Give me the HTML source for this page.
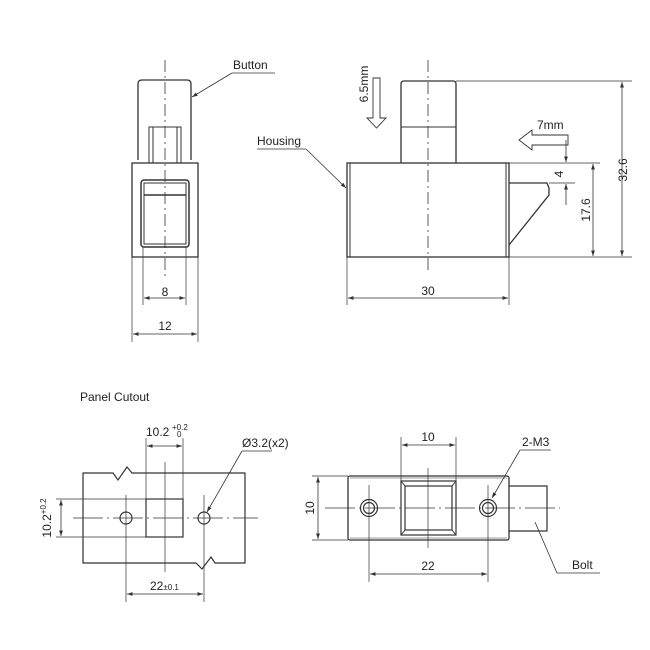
<!DOCTYPE html>
<html><head><meta charset="utf-8"><style>
html,body{margin:0;padding:0;background:#fff}
svg{display:block}
text{font-family:"Liberation Sans",sans-serif;fill:#222}
</style></head><body>
<svg width="650" height="650" viewBox="0 0 650 650" xmlns="http://www.w3.org/2000/svg">
<defs>
<marker id="a" viewBox="0 0 10 10" refX="10" refY="5" markerWidth="7" markerHeight="7" orient="auto-start-reverse"><path d="M0,1.5 L10,5 L0,8.5 z" fill="#333"/></marker>
</defs>
<g fill="none" stroke="#333" stroke-width="1">
<!-- top-left view -->
<path d="M138,160 V84 Q138,80 142,80 H187 Q191,80 191,84 V160" stroke-width="1.3"/>
<rect x="149" y="127" width="32" height="36"/>
<line x1="153" y1="127" x2="153" y2="163"/><line x1="177" y1="127" x2="177" y2="163"/>
<rect x="132" y="163" width="66" height="94" stroke-width="1.3"/>
<rect x="141" y="180" width="48" height="67" rx="3" stroke-width="1.5"/>
<rect x="144" y="183" width="42" height="61"/>
<line x1="144" y1="195" x2="186" y2="195" stroke-width="1.5"/>
<line x1="165" y1="60" x2="165" y2="280" stroke-dasharray="12,4,2,4" stroke-width="0.8"/>
<line x1="143" y1="247" x2="143" y2="305" stroke-width="0.7"/><line x1="186" y1="247" x2="186" y2="305" stroke-width="0.7"/>
<line x1="144" y1="298" x2="185" y2="298" marker-start="url(#a)" marker-end="url(#a)" stroke-width="0.8"/>
<line x1="132" y1="257" x2="132" y2="342" stroke-width="0.7"/><line x1="198" y1="257" x2="198" y2="342" stroke-width="0.7"/>
<line x1="133" y1="334" x2="197" y2="334" marker-start="url(#a)" marker-end="url(#a)" stroke-width="0.8"/>
<line x1="275" y1="73" x2="232" y2="73" stroke-width="0.8"/>
<line x1="232" y1="73" x2="192" y2="97" marker-end="url(#a)" stroke-width="0.8"/>

<!-- top-right view -->
<path d="M401,163 V84 Q401,81 404,81 H453 Q456,81 456,84 V163" stroke-width="1.3"/>
<line x1="401" y1="127" x2="456" y2="127"/>
<rect x="347" y="163" width="162" height="94" stroke-width="1.3"/>
<line x1="350" y1="163" x2="350" y2="257"/><line x1="506" y1="163" x2="506" y2="257"/>
<path d="M509,183 H547 L549,188 V195 L509,245" stroke-width="1.3"/>
<line x1="428" y1="60" x2="428" y2="272" stroke-dasharray="12,4,2,4" stroke-width="0.8"/>
<line x1="456" y1="81" x2="632" y2="81" stroke-width="0.7"/>
<line x1="509" y1="257" x2="632" y2="257" stroke-width="0.7"/>
<line x1="509" y1="163" x2="600" y2="163" stroke-width="0.7"/>
<line x1="549" y1="183" x2="575" y2="183" stroke-width="0.7"/>
<line x1="622" y1="82" x2="622" y2="256" marker-start="url(#a)" marker-end="url(#a)" stroke-width="0.8"/>
<line x1="593" y1="164" x2="593" y2="256" marker-start="url(#a)" marker-end="url(#a)" stroke-width="0.8"/>
<line x1="566" y1="140" x2="566" y2="162" marker-end="url(#a)" stroke-width="0.8"/>
<line x1="566" y1="205" x2="566" y2="184" marker-end="url(#a)" stroke-width="0.8"/>
<path d="M568,135 V145 H532 V150 L519,140 L532,130 V135 Z" stroke-width="0.9"/>
<path d="M373,78 H380 V118 H386 L376.5,128 L367,118 H373 Z" stroke-width="0.9"/>
<line x1="347" y1="257" x2="347" y2="305" stroke-width="0.7"/><line x1="509" y1="257" x2="509" y2="305" stroke-width="0.7"/>
<line x1="348" y1="298" x2="508" y2="298" marker-start="url(#a)" marker-end="url(#a)" stroke-width="0.8"/>
<line x1="257" y1="149" x2="306" y2="149" stroke-width="0.8"/>
<line x1="306" y1="149" x2="346" y2="188" marker-end="url(#a)" stroke-width="0.8"/>

<!-- panel cutout -->
<path d="M83,473 H113 L118,480 L127,467 L132,473 H245 V563 H215 L211,557 L202,569 L196,563 H83 Z" stroke-width="1.2"/>
<rect x="146" y="499" width="37" height="38" stroke-width="1.2"/>
<circle cx="126" cy="518" r="6" stroke-width="1.2"/><circle cx="204" cy="518" r="6" stroke-width="1.2"/>
<line x1="73" y1="518" x2="258" y2="518" stroke-dasharray="30,4,2,4" stroke-width="0.7"/>
<line x1="165" y1="462" x2="165" y2="572" stroke-width="0.7"/>
<line x1="126" y1="495" x2="126" y2="602" stroke-width="0.7"/>
<line x1="204" y1="495" x2="204" y2="602" stroke-width="0.7"/>
<line x1="146" y1="438" x2="146" y2="499" stroke-width="0.7"/><line x1="183" y1="438" x2="183" y2="499" stroke-width="0.7"/>
<line x1="147" y1="446" x2="182" y2="446" marker-start="url(#a)" marker-end="url(#a)" stroke-width="0.8"/>
<line x1="56" y1="499" x2="146" y2="499" stroke-width="0.7"/><line x1="56" y1="537" x2="146" y2="537" stroke-width="0.7"/>
<line x1="61" y1="500" x2="61" y2="536" marker-start="url(#a)" marker-end="url(#a)" stroke-width="0.8"/>
<line x1="127" y1="594" x2="203" y2="594" marker-start="url(#a)" marker-end="url(#a)" stroke-width="0.8"/>
<line x1="272" y1="451" x2="242" y2="451" stroke-width="0.8"/>
<line x1="242" y1="451" x2="207" y2="512" marker-end="url(#a)" stroke-width="0.8"/>

<!-- bottom-right view -->
<rect x="348" y="476" width="161" height="64" rx="2" stroke-width="1.3"/>
<line x1="350" y1="478" x2="507" y2="478" stroke-width="0.6"/><line x1="350" y1="538" x2="507" y2="538" stroke-width="0.6"/>
<rect x="401" y="481" width="55" height="54" stroke-width="1.2"/>
<rect x="405" y="486" width="47" height="44" stroke-width="1.2"/>
<line x1="401" y1="481" x2="405" y2="486"/><line x1="456" y1="481" x2="452" y2="486"/>
<line x1="401" y1="535" x2="405" y2="530"/><line x1="456" y1="535" x2="452" y2="530"/>
<path d="M509,486 H547 V531 H509" stroke-width="1.2"/>
<circle cx="369" cy="508" r="8.5" stroke-width="1.2"/><circle cx="369" cy="508" r="5.5" stroke-width="1.2"/>
<circle cx="488" cy="508" r="8.5" stroke-width="1.2"/><circle cx="488" cy="508" r="5.5" stroke-width="1.2"/>
<line x1="325" y1="508" x2="560" y2="508" stroke-dasharray="30,4,2,4" stroke-width="0.7"/>
<line x1="428" y1="468" x2="428" y2="548" stroke-width="0.7"/>
<line x1="369" y1="485" x2="369" y2="582" stroke-width="0.7"/>
<line x1="488" y1="485" x2="488" y2="582" stroke-width="0.7"/>
<line x1="401" y1="437" x2="401" y2="481" stroke-width="0.7"/><line x1="456" y1="437" x2="456" y2="481" stroke-width="0.7"/>
<line x1="402" y1="445" x2="455" y2="445" marker-start="url(#a)" marker-end="url(#a)" stroke-width="0.8"/>
<line x1="312" y1="476" x2="348" y2="476" stroke-width="0.7"/><line x1="312" y1="540" x2="348" y2="540" stroke-width="0.7"/>
<line x1="318" y1="477" x2="318" y2="539" marker-start="url(#a)" marker-end="url(#a)" stroke-width="0.8"/>
<line x1="370" y1="574" x2="487" y2="574" marker-start="url(#a)" marker-end="url(#a)" stroke-width="0.8"/>
<line x1="551" y1="450" x2="520" y2="450" stroke-width="0.8"/>
<line x1="520" y1="450" x2="492" y2="498" marker-end="url(#a)" stroke-width="0.8"/>
<line x1="600" y1="573" x2="557" y2="573" stroke-width="0.8"/>
<line x1="557" y1="573" x2="535" y2="522" stroke-width="0.8"/>
</g>
<g font-size="12">
<text x="233" y="69">Button</text>
<text x="257" y="145">Housing</text>
<text x="165" y="296" text-anchor="middle">8</text>
<text x="165" y="330" text-anchor="middle">12</text>
<text x="428" y="295" text-anchor="middle">30</text>
<text x="537" y="129">7mm</text>
<text transform="translate(368,84) rotate(-90)" text-anchor="middle">6.5mm</text>
<text transform="translate(627,170) rotate(-90)" text-anchor="middle">32.6</text>
<text transform="translate(590,210) rotate(-90)" text-anchor="middle">17.6</text>
<text transform="translate(563,174) rotate(-90)" text-anchor="middle">4</text>
<text x="80" y="401">Panel Cutout</text>
<text x="146" y="436">10.2</text><text x="172" y="430" font-size="8">+0.2</text><text x="177" y="437" font-size="8">0</text>
<text transform="translate(51,518) rotate(-90)" text-anchor="middle">10.2<tspan font-size="8" dy="-5">+0.2</tspan></text>
<text x="150" y="590">22<tspan font-size="8">±0.1</tspan></text>
<text x="242" y="447">Ø3.2(x2)</text>
<text x="428" y="441" text-anchor="middle">10</text>
<text transform="translate(314,508) rotate(-90)" text-anchor="middle">10</text>
<text x="428" y="570" text-anchor="middle">22</text>
<text x="522" y="446">2-M3</text>
<text x="572" y="569">Bolt</text>
</g>
</svg>
</body></html>
